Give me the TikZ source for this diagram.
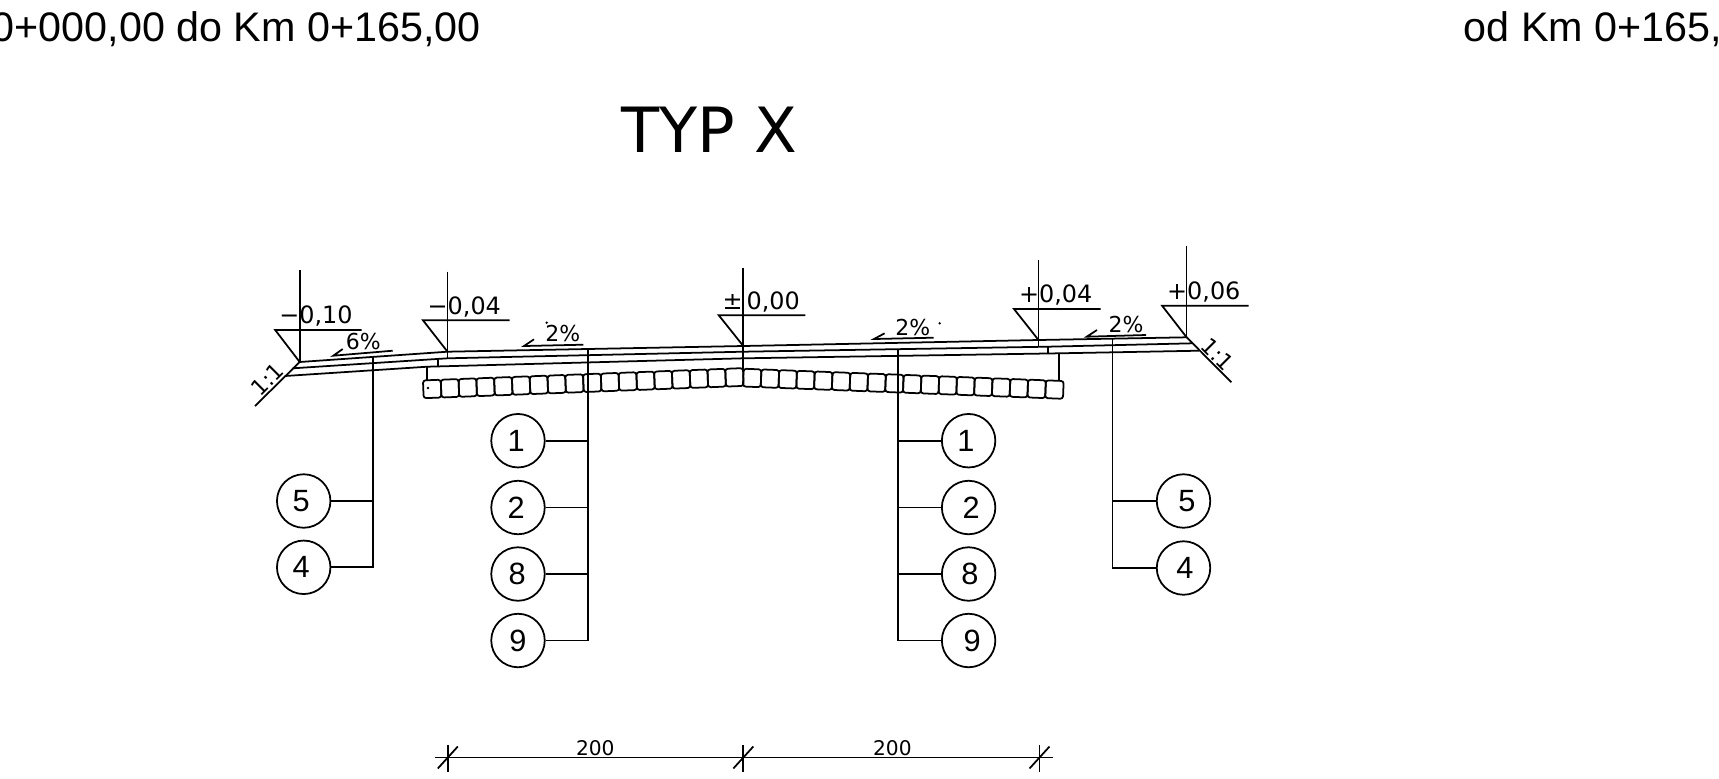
\documentclass[tikz,border=0pt]{standalone}
\usepackage{fontspec}
\setmainfont{Liberation Sans}
\newfontfamily\dejafont{DejaVu Sans}
\usetikzlibrary{positioning}
\begin{document}
\begin{tikzpicture}[
  x=0.02cm, y=-0.02cm, line width=1pt,
  every node/.style={inner sep=0pt},
  heading/.style={font=\fontsize{23.5}{26}\selectfont},
  typlabel/.style={font=\dejafont\fontsize{35.5}{40}\selectfont},
  level/.style={font=\dejafont\fontsize{13.6}{16}\selectfont},
  slope/.style={font=\dejafont\fontsize{12.5}{14}\selectfont},
  dimen/.style={font=\dejafont\fontsize{11.5}{13}\selectfont},
  callout/.style={circle, draw, minimum size=1.07cm, font=\fontsize{17.5}{20}\selectfont},
  stone/.style={draw, rounded corners=1.5pt, minimum width=0.356cm, minimum height=0.356cm},
  speck/.style={fill, circle, minimum size=1.5pt},
]
\clip (0,0) rectangle (1719,778);
\fill[white] (0,0) rectangle (1719,778);
% headings
\node[heading, anchor=base east] (headl) at (481.5, 41.7) {0+000,00 do Km 0+165,00};
\node[heading, anchor=base west] (headr) at (1463, 41.7) {od Km 0+165,};
\node[typlabel] (typ) at (709.5, 129.5) {TYP X};
% cobble row
\foreach \i in {0,...,17} {
  \pgfmathsetmacro{\dd}{(\i+0.5)*17.78}
  \pgfmathsetmacro{\hh}{389.3-0.0384*\dd}
  \node[stone, rotate=2.2] (stl\i) at ({423.3+\dd}, \hh) {};
  \node[stone, rotate=-2.2] (str\i) at ({1063.3-\dd}, {\hh+0.6}) {};
}
% road layers
\coordinate (e1) at (299.7, 362);
\coordinate (e2) at (447.5, 351.7);
\coordinate (e3) at (743.3, 346);
\coordinate (e4) at (1038.5, 340);
\coordinate (e5) at (1186.6, 337.3);
\draw (e1) -- (e2) -- (e3) -- (e4) -- (e5);
\draw (292.7, 368.3) -- (447.5, 358.3) -- (743.3, 351.7) -- (1047.8, 346.7) -- (1192.4, 343.3);
\draw (285, 376) -- (427.3, 366.7) -- (743.3, 358.3) -- (1059.2, 353.3) -- (1199.3, 350.7);
\draw (447.5, 351.7) -- (447.5, 358.3) (438.3, 359) -- (438.3, 366.7) (427.3, 366.7) -- (427.3, 380.5);
\draw (1038.5, 340) -- (1038.5, 346.7) (1047.8, 346.7) -- (1047.8, 353.3) (1059.2, 353.3) -- (1059.2, 380);
% embankment
\draw (255, 406) -- (e1);
\draw (e5) -- (1231.4, 382.3);
\node[slope, rotate=45] (ratl) at (267.7, 379.3) {1:1};
\node[slope, rotate=-45] (ratr) at (1217.6, 354) {1:1};
% level marks
\foreach \nm/\xx/\yy/\tp/\fl/\txt/\tx/\ty in {
  lva/e1/330/270/299.7/{−0,10}/316/316,
  lvb/e2/320.3/271.7/447.5/{−0,04}/464.3/306.7,
  lvc/e3/315.3/267.7/743.3/{±\,0,00}/761.3/301.7,
  lvd/e4/309/260/1038.5/{+0,04}/1055.7/295,
  lve/e5/305.7/245.7/1186.6/{+0,06}/1203.8/292.3} {
  \draw (\fl, \tp) -- (\xx);
  \draw (\xx) -- (\fl-24.5, \yy) -- (\fl+62, \yy);
  \node[level] (\nm) at (\tx, \ty) {\txt};
}
\draw (e3) -- (743.3, 372);
% slopes
\draw (342.7, 349) -- (333.3, 355.7) -- (392.7, 350.7);
\node[slope] (sla) at (363.3, 341) {6\%};
\draw (534, 339.3) -- (524, 346) -- (583.3, 344.7);
\node[slope] (slb) at (562.7, 333.3) {2\%};
\draw (884.6, 333.3) -- (874, 339) -- (933.5, 337.7);
\node[slope] (slc) at (912.8, 327.3) {2\%};
\draw (1097, 330) -- (1086.7, 336.7) -- (1146, 335);
\node[slope] (sld) at (1126, 324) {2\%};
% stray specks
\node[speck] (spka) at (546.7, 322.7) {};
\node[speck] (spkb) at (939.7, 323.3) {};
\node[speck] (spkc) at (428, 388) {};
% callouts
\coordinate (spa) at (373.3, 357);
\coordinate (spb) at (588.3, 350);
\coordinate (spc) at (898, 350);
\coordinate (spd) at (1112.6, 339.3);
\node[callout] (p5l) at (303.7, 501) {\kern-3pt 5};
\node[callout] (p4l) at (303.7, 567.3) {\kern-3pt 4};
\node[callout] (p1l) at (518, 440.7) {\kern-2pt 1};
\node[callout] (p2l) at (518, 507.5) {\kern-2pt 2};
\node[callout] (p8l) at (518, 574) {\kern-1pt 8};
\node[callout] (p9l) at (518, 640.5) {9};
\node[callout] (p1r) at (968.6, 440.7) {\kern-3pt 1};
\node[callout] (p2r) at (968.6, 507.5) {\kern3pt 2};
\node[callout] (p8r) at (968.6, 574) {\kern1.5pt 8};
\node[callout] (p9r) at (968.6, 640.5) {\kern4pt 9};
\node[callout] (p5r) at (1183.5, 501) {\kern4pt 5};
\node[callout] (p4r) at (1183.5, 568) {\kern1.5pt 4};
\draw (spa) |- (p4l);
\draw (p5l) -- (p5l -| spa);
\draw (spb) |- (p9l);
\foreach \nm in {p1l,p2l,p8l} \draw (\nm) -- (\nm -| spb);
\draw (spc) |- (p9r);
\foreach \nm in {p1r,p2r,p8r} \draw (\nm) -- (\nm -| spc);
\draw (spd) |- (p4r);
\draw (p5r) -- (p5r -| spd);
% dimension line
\coordinate (da) at (447.8, 757.5);
\coordinate (db) at (743.3, 757.5);
\coordinate (dc) at (1039.5, 757.5);
\draw (434.7, 757.5) -- (1053.4, 757.5);
\foreach \nm in {da,db,dc} {
  \draw ([yshift=0.25cm]\nm) -- ([yshift=-0.28cm]\nm);
  \draw ([xshift=-0.2cm,yshift=-0.22cm]\nm) -- ([xshift=0.2cm,yshift=0.22cm]\nm);
}
\node[dimen] (dl) at (595.3, 747.7) {200};
\node[dimen] (dr) at (892.4, 747.7) {200};
\end{tikzpicture}
\end{document}
